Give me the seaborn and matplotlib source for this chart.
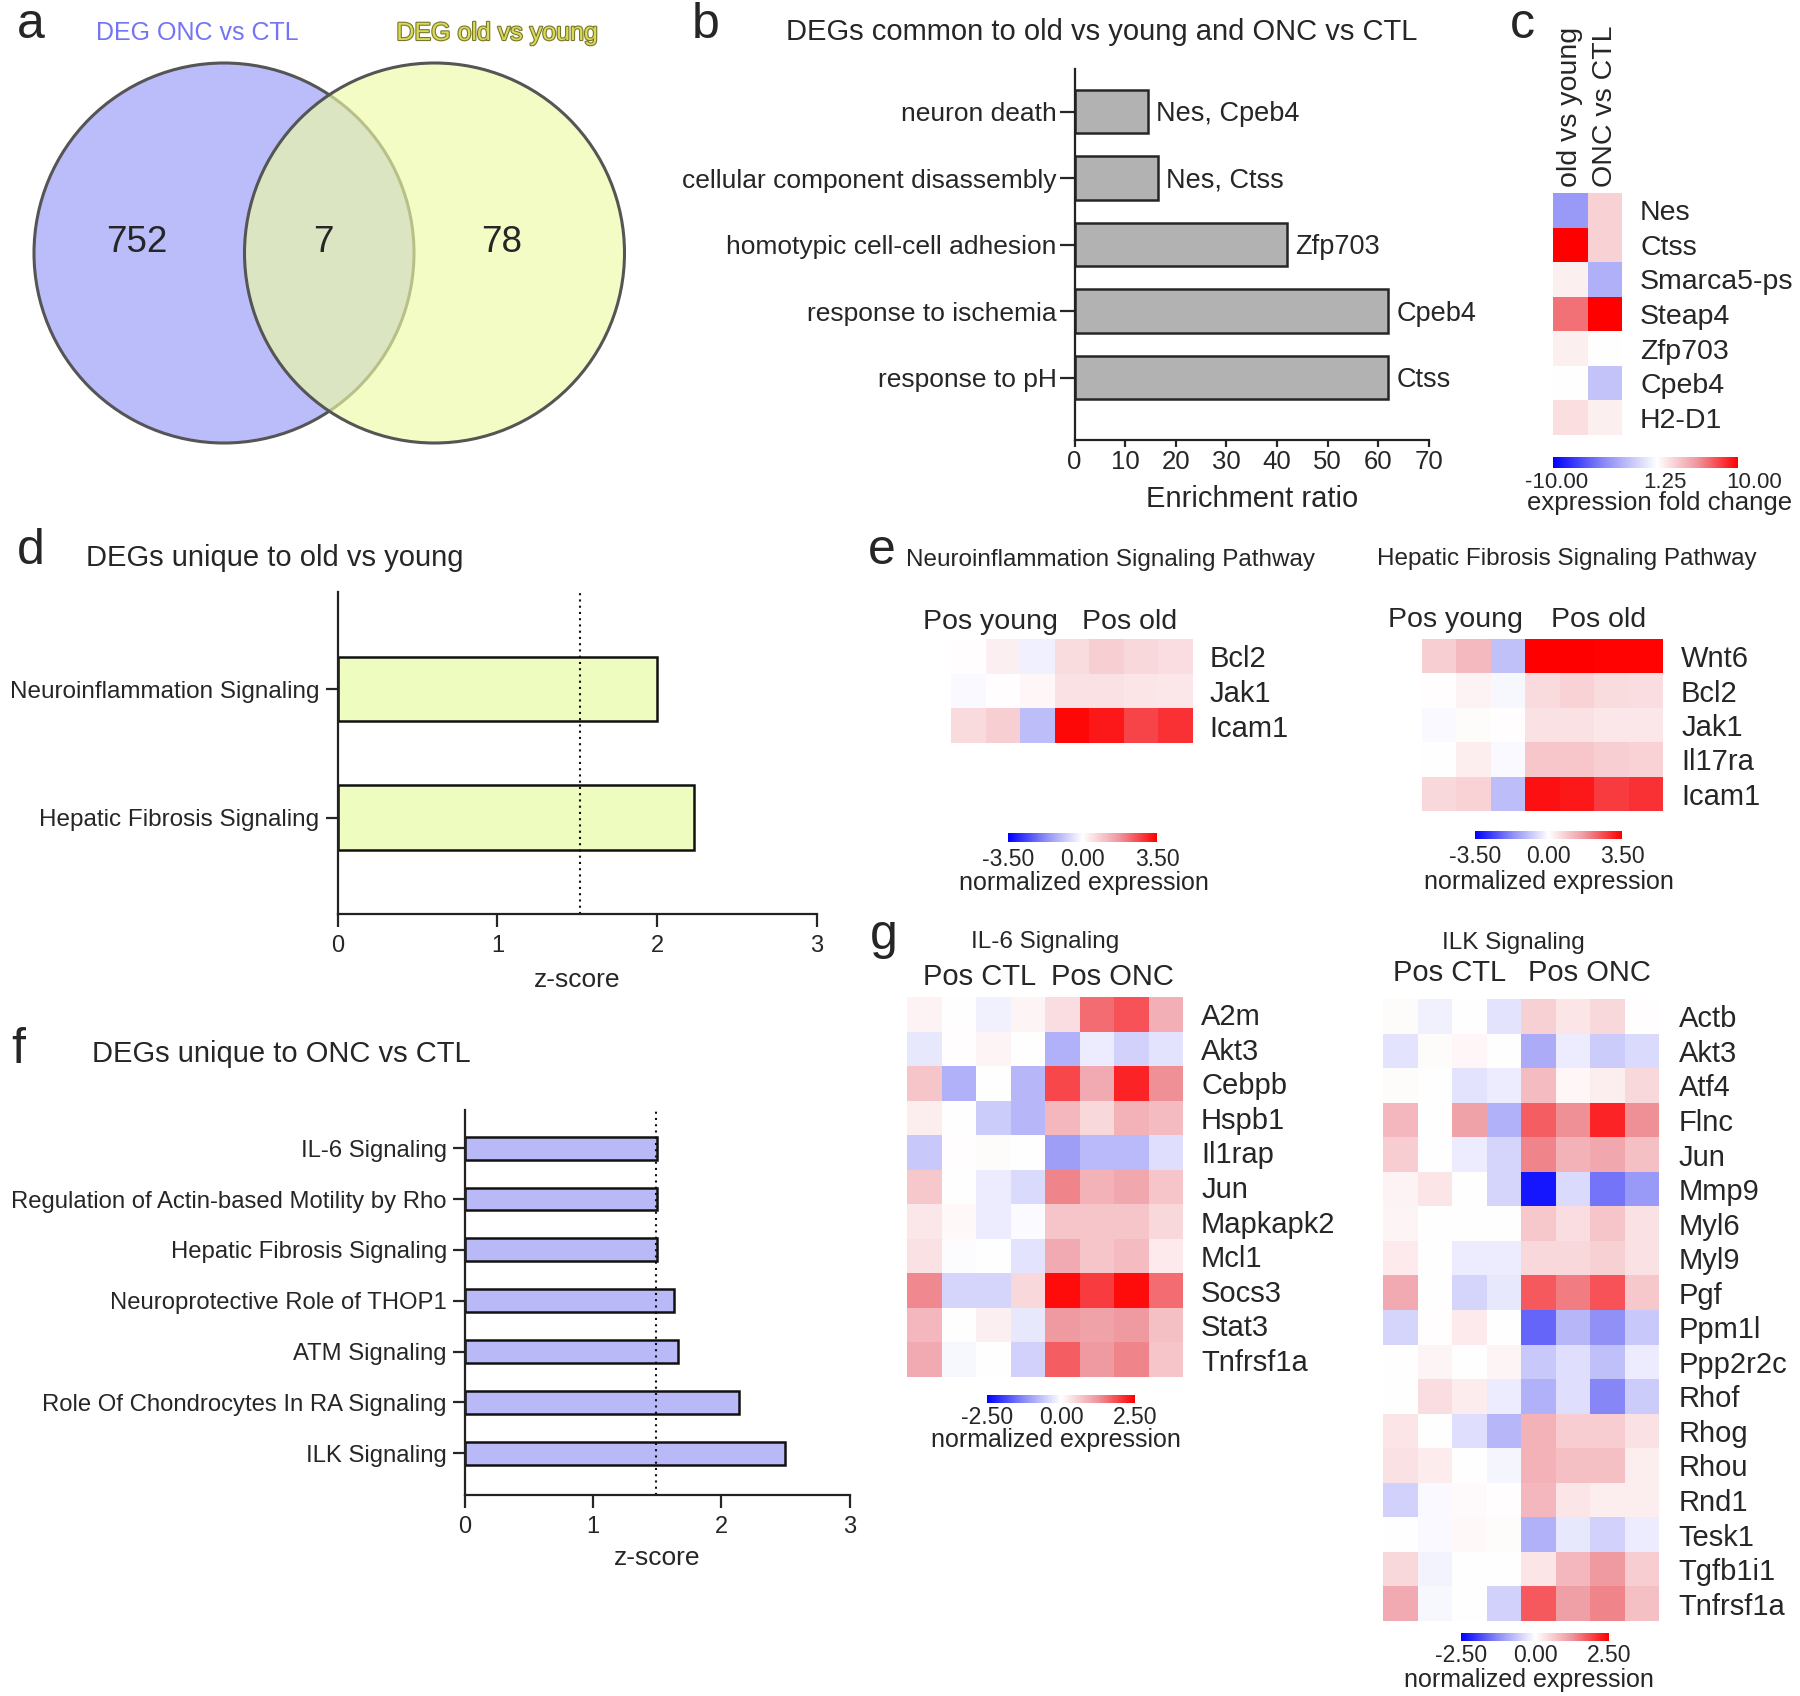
import numpy as np
import pandas as pd
import matplotlib
matplotlib.use("Agg")
import matplotlib.pyplot as plt
import matplotlib.patheffects as pe
from matplotlib.colors import LinearSegmentedColormap
from matplotlib.patches import Ellipse
from matplotlib.transforms import ScaledTranslation
import seaborn as sns

# ---------------- data ----------------
venn_titles = ["DEG ONC vs CTL", "DEG old vs young"]
venn_counts = [752, 7, 78]  # only ONC vs CTL, shared, only old vs young

b_terms = ["neuron death", "cellular component disassembly",
           "homotypic cell-cell adhesion", "response to ischemia", "response to pH"]
b_ratio = [14.5, 16.5, 42.0, 62.0, 62.0]
b_genes = ["Nes, Cpeb4", "Nes, Ctss", "Zfp703", "Cpeb4", "Ctss"]

c_genes = ["Nes", "Ctss", "Smarca5-ps", "Steap4", "Zfp703", "Cpeb4", "H2-D1"]
c_cols = ["old vs young", "ONC vs CTL"]
c_old_young = [-3.7, 10.0, 1.95, 6.7, 1.95, 1.3, 2.6]
c_onc_ctl = [3.2, 3.2, -2.6, 10.0, 1.3, -1.7, 1.9]

d_paths = ["Neuroinflammation Signaling", "Hepatic Fibrosis Signaling"]
d_z = [2.0, 2.23]
d_cut = 1.52

f_paths = ["IL-6 Signaling", "Regulation of Actin-based Motility by Rho",
           "Hepatic Fibrosis Signaling", "Neuroprotective Role of THOP1",
           "ATM Signaling", "Role Of Chondrocytes In RA Signaling", "ILK Signaling"]
f_z = [1.50, 1.50, 1.50, 1.63, 1.665, 2.14, 2.50]
f_cut = 1.49

e_neuro_genes = ["Bcl2", "Jak1", "Icam1"]
e_neuro = [
    [0.05, 0.25, -0.23, 0.60, 0.80, 0.63, 0.55],
    [-0.10, 0.05, 0.15, 0.50, 0.50, 0.42, 0.40],
    [0.62, 0.80, -1.00, 3.40, 3.20, 2.70, 2.90],
]
e_hep_genes = ["Wnt6", "Bcl2", "Jak1", "Il17ra", "Icam1"]
e_hep = [
    [0.80, 1.15, -0.95, 3.50, 3.50, 3.45, 3.45],
    [0.03, 0.20, -0.12, 0.62, 0.75, 0.60, 0.55],
    [-0.10, 0.06, 0.05, 0.50, 0.50, 0.40, 0.40],
    [0.02, 0.30, -0.10, 0.95, 0.95, 0.80, 0.75],
    [0.65, 0.75, -1.00, 3.30, 3.20, 2.80, 2.90],
]

g_il6_genes = ["A2m", "Akt3", "Cebpb", "Hspb1", "Il1rap", "Jun", "Mapkapk2",
               "Mcl1", "Socs3", "Stat3", "Tnfrsf1a"]
g_il6 = [
    [0.15, 0.00, -0.15, 0.12, 0.40, 1.60, 1.80, 0.95],
    [-0.25, 0.03, 0.12, 0.00, -0.85, -0.20, -0.50, -0.30],
    [0.70, -0.85, 0.00, -0.80, 1.90, 1.00, 2.20, 1.30],
    [0.20, 0.00, -0.55, -0.80, 0.85, 0.45, 0.90, 0.80],
    [-0.60, 0.02, 0.05, 0.00, -1.05, -0.75, -0.75, -0.35],
    [0.65, 0.00, -0.20, -0.40, 1.40, 0.90, 1.05, 0.70],
    [0.28, 0.08, -0.20, -0.05, 0.70, 0.70, 0.70, 0.45],
    [0.35, -0.03, 0.00, -0.30, 1.00, 0.70, 0.80, 0.25],
    [1.35, -0.45, -0.45, 0.45, 2.40, 2.00, 2.40, 1.60],
    [0.85, 0.00, 0.18, -0.25, 1.20, 1.10, 1.20, 0.75],
    [1.00, -0.08, 0.00, -0.50, 1.70, 1.20, 1.40, 0.70],
]
g_ilk_genes = ["Actb", "Akt3", "Atf4", "Flnc", "Jun", "Mmp9", "Myl6", "Myl9", "Pgf",
               "Ppm1l", "Ppp2r2c", "Rhof", "Rhog", "Rhou", "Rnd1", "Tesk1",
               "Tgfb1i1", "Tnfrsf1a"]
g_ilk = [
    [0.04, -0.15, 0.00, -0.30, 0.55, 0.30, 0.45, 0.02],
    [-0.30, 0.04, 0.10, 0.00, -0.90, -0.20, -0.55, -0.40],
    [0.04, 0.00, -0.30, -0.20, 0.80, 0.10, 0.20, 0.45],
    [0.85, 0.00, 1.10, -0.85, 1.70, 1.30, 2.20, 1.30],
    [0.60, 0.00, -0.20, -0.45, 1.40, 0.90, 1.05, 0.75],
    [0.15, 0.30, 0.00, -0.45, -2.30, -0.40, -1.45, -1.10],
    [0.12, 0.00, 0.00, 0.01, 0.65, 0.40, 0.70, 0.35],
    [0.25, 0.00, -0.20, -0.20, 0.45, 0.45, 0.55, 0.35],
    [1.00, 0.00, -0.45, -0.25, 1.75, 1.45, 1.80, 0.65],
    [-0.45, 0.03, 0.25, 0.00, -1.60, -0.80, -1.20, -0.60],
    [0.01, 0.12, 0.00, 0.12, -0.60, -0.35, -0.70, -0.20],
    [0.00, 0.40, 0.22, -0.20, -0.85, -0.35, -1.30, -0.55],
    [0.30, 0.00, -0.35, -0.80, 0.90, 0.60, 0.60, 0.35],
    [0.35, 0.22, 0.00, -0.10, 0.90, 0.75, 0.75, 0.20],
    [-0.50, -0.07, 0.06, 0.02, 0.85, 0.30, 0.20, 0.20],
    [0.00, -0.06, 0.08, 0.04, -0.85, -0.25, -0.50, -0.20],
    [0.45, -0.12, 0.00, 0.00, 0.30, 0.85, 1.20, 0.60],
    [1.00, -0.08, 0.00, -0.50, 1.75, 1.15, 1.40, 0.75],
]

# ---------------- setup ----------------
sns.set_theme(style="ticks")
plt.rcParams["font.family"] = ["Liberation Sans", "DejaVu Sans"]

W, H = 1800, 1696
fig = plt.figure(figsize=(W / 100, H / 100), dpi=100)


def diverging(mid):
    # blue -> white -> red, slightly greyed halfway on each side (like the source software)
    return LinearSegmentedColormap.from_list("div", [
        (0.0, "#0000ff"), (mid * 0.5, "#8c8cf6"), (mid, "#ffffff"),
        (mid + (1 - mid) * 0.5, "#ee969e"), (1.0, "#ff0000")])


def box(x0, y0, x1, y1):
    # axes from a pixel box (top-left origin)
    return fig.add_axes([x0 / W, 1 - y1 / H, (x1 - x0) / W, (y1 - y0) / H])


def ftext(x, y, s, **kw):
    kw.setdefault("ha", "center")
    kw.setdefault("va", "center")
    fig.text(x / W, 1 - y / H, s, **kw)


def nudge(label, dx_px):
    label.set_transform(label.get_transform() + ScaledTranslation(dx_px / 100, 0, fig.dpi_scale_trans))


# panel letters
for lab, x, y in [("a", 17, 25), ("b", 692, 25), ("c", 1510, 25), ("d", 17, 551),
                  ("e", 868, 551), ("f", 11, 1050), ("g", 870, 936)]:
    ftext(x, y, lab, fontsize=36, ha="left")

# ---------------- a: venn ----------------
ax = box(0, 0, 680, 480)
ax.set_xlim(0, 680)
ax.set_ylim(480, 0)
ax.axis("off")
ax.add_patch(Ellipse((224, 253), 380, 380, facecolor="#bbbdfa", edgecolor="#555555", lw=2.2))
ax.add_patch(Ellipse((434.5, 253), 380, 380, facecolor="#eefba5", alpha=0.65, lw=0))
ax.add_patch(Ellipse((434.5, 253), 380, 380, facecolor="none", edgecolor="#555555", lw=2.2))
for x, n in zip([137, 323, 502], venn_counts):
    ax.text(x, 242, str(n), ha="center", va="center", fontsize=26.5)
ax.text(197, 33, venn_titles[0], ha="center", va="center", fontsize=18, color="#7474f6")
ax.text(497, 33, venn_titles[1], ha="center", va="center", fontsize=18, color="#dada55",
        path_effects=[pe.withStroke(linewidth=1.6, foreground="#77772e")])

# ---------------- b: enrichment ----------------
ax = box(1074.5, 69, 1429, 440)
df_b = pd.DataFrame({"term": b_terms, "ratio": b_ratio})
sns.barplot(data=df_b, x="ratio", y="term", orient="h", color="#b2b2b2", saturation=1,
            edgecolor="#262626", linewidth=1.8, width=0.655, errorbar=None, ax=ax)
for i, (v, g) in enumerate(zip(b_ratio, b_genes)):
    ax.text(v + 1.6, i + 0.04, g, va="center", ha="left", fontsize=19.5)
ax.set_xlim(0, 70)
ax.set_ylim(4.94, -0.64)
ax.set_xticks(range(0, 71, 10))
ax.set_ylabel("")
ax.set_xlabel("Enrichment ratio", fontsize=21, labelpad=8)
sns.despine(ax=ax)
for s in ["left", "bottom"]:
    ax.spines[s].set_linewidth(1.6)
    ax.spines[s].set_color("#222222")
ax.tick_params(axis="y", length=11, width=1.6, labelsize=19, pad=2)
ax.tick_params(axis="x", length=5, width=1.6, labelsize=18.5, pad=2)
ftext(1102, 32, "DEGs common to old vs young and ONC vs CTL", fontsize=21)

# ---------------- c: fold change heatmap ----------------
ax = box(1553, 193, 1622, 435)
cax = box(1553, 457, 1738, 468)
df_c = pd.DataFrame({c_cols[0]: c_old_young, c_cols[1]: c_onc_ctl}, index=c_genes)
sns.heatmap(df_c, ax=ax, cmap=diverging(11.25 / 20), vmin=-10, vmax=10, cbar_ax=cax,
            cbar_kws={"orientation": "horizontal", "ticks": [-10, 1.25, 10]})
ax.xaxis.tick_top()
ax.yaxis.tick_right()
ax.tick_params(axis="x", length=0, rotation=90, labelsize=20.5, pad=4)
ax.tick_params(axis="y", length=0, rotation=0, labelsize=20.5, pad=13)
for t in ax.get_yticklabels():
    t.set_ha("left")
cax.set_xticklabels(["-10.00", "1.25", "10.00"])
cax.tick_params(length=0, labelsize=16, pad=3)
tl = cax.get_xticklabels()
nudge(tl[0], 4)
nudge(tl[1], 8)
nudge(tl[2], 16)
for sp in cax.spines.values():
    sp.set_visible(False)
ftext(1660, 503, "expression fold change", fontsize=18.5)


# ---------------- heatmap helper for e / g ----------------
def expr_heat(rows, genes, hm_box, cb_box, vmax, tick_pad, lab_xy, pad):
    ax = box(*hm_box)
    cax = box(*cb_box)
    df = pd.DataFrame(rows, index=genes)
    sns.heatmap(df, ax=ax, cmap=diverging(0.5), vmin=-vmax, vmax=vmax, cbar_ax=cax,
                xticklabels=False,
                cbar_kws={"orientation": "horizontal", "ticks": [-vmax, 0, vmax]})
    ax.yaxis.tick_right()
    ax.tick_params(axis="y", length=0, rotation=0, labelsize=21, pad=pad)
    for t in ax.get_yticklabels():
        t.set_ha("left")
    cax.set_xticklabels([f"{-vmax:.2f}", "0.00", f"{vmax:.2f}"])
    cax.tick_params(length=0, labelsize=16.5, pad=tick_pad)
    for sp in cax.spines.values():
        sp.set_visible(False)
    ftext(lab_xy[0], lab_xy[1], "normalized expression", fontsize=18)
    return ax


# ---------------- e ----------------
expr_heat(e_neuro, e_neuro_genes, (951, 639, 1193, 743), (1008, 833, 1157, 842), 3.5, 4,
          (1084, 883), 12)
ftext(1110, 560, "Neuroinflammation Signaling Pathway", fontsize=17.5)
ftext(990, 622, "Pos young", fontsize=20.5)
ftext(1130, 622, "Pos old", fontsize=20.5)

expr_heat(e_hep, e_hep_genes, (1422, 639, 1663, 811), (1475, 831, 1622, 839), 3.5, 4,
          (1549, 882), 13)
ftext(1567, 559, "Hepatic Fibrosis Signaling Pathway", fontsize=17.5)
ftext(1455, 620, "Pos young", fontsize=20.5)
ftext(1599, 620, "Pos old", fontsize=20.5)

# ---------------- g ----------------
expr_heat(g_il6, g_il6_genes, (907, 997, 1183, 1377), (987, 1395, 1135, 1403), 2.5, 2,
          (1056, 1440), 13)
ftext(1045, 942, "IL-6 Signaling", fontsize=17.5)
ftext(980, 977, "Pos CTL", fontsize=21)
ftext(1112, 977, "Pos ONC", fontsize=21)

expr_heat(g_ilk, g_ilk_genes, (1383, 999, 1659, 1621), (1461, 1633, 1609, 1641), 2.5, 2,
          (1529, 1680), 14)
ftext(1513, 943, "ILK Signaling", fontsize=17.5)
ftext(1450, 973, "Pos CTL", fontsize=21)
ftext(1589, 973, "Pos ONC", fontsize=21)


# ---------------- d / f: z-score bars ----------------
def zbars(paths, z, cut, ax_box, ylim, width, color, label_fs, xlab_y, title, title_xy):
    ax = box(*ax_box)
    df = pd.DataFrame({"path": paths, "z": z})
    sns.barplot(data=df, x="z", y="path", orient="h", color=color, saturation=1,
                edgecolor="#111111", linewidth=1.8, width=width, errorbar=None, ax=ax)
    ax.axvline(cut, color="#111111", ls=(0, (1, 2)), lw=1.5)
    ax.set_xlim(0, 3)
    ax.set_ylim(*ylim)
    ax.set_xticks([0, 1, 2, 3])
    ax.set_ylabel("")
    ax.set_xlabel("z-score", fontsize=19, labelpad=xlab_y)
    sns.despine(ax=ax)
    for s in ["left", "bottom"]:
        ax.spines[s].set_linewidth(1.6)
        ax.spines[s].set_color("#222222")
    ax.tick_params(axis="y", length=9, width=1.6, labelsize=label_fs, pad=4)
    ax.tick_params(axis="x", length=9, width=1.6, labelsize=17, pad=6)
    ftext(title_xy[0], title_xy[1], title, fontsize=21, ha="left")


zbars(d_paths, d_z, d_cut, (337.5, 592, 817, 914), (1.75, -0.755), 0.5, "#effcc0", 17.5, 8,
      "DEGs unique to old vs young", (86, 558))
zbars(f_paths, f_z, f_cut, (465, 1110, 849.5, 1495), (6.82, -0.75), 0.45, "#b9b9f8", 17.2, 6,
      "DEGs unique to ONC vs CTL", (92, 1054))

fig.savefig("out.png", dpi=100)
